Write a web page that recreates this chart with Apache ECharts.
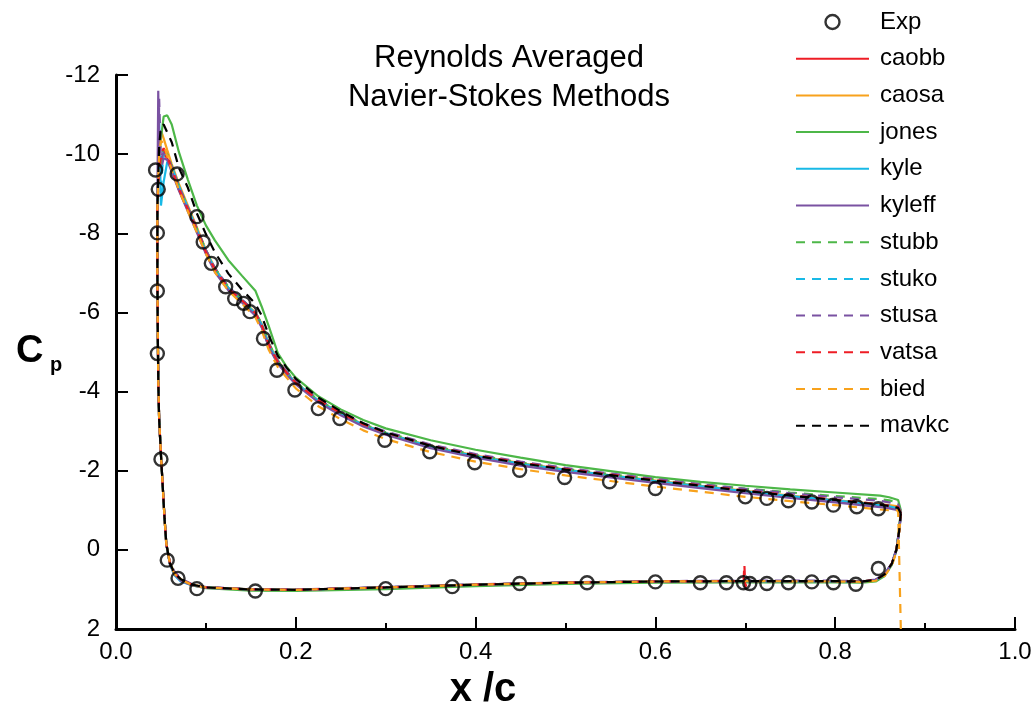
<!DOCTYPE html>
<html><head><meta charset="utf-8">
<script src="https://cdn.jsdelivr.net/npm/echarts@6/dist/echarts.min.js"></script>
<style>html,body{margin:0;padding:0;background:#fff}#c{width:1035px;height:711px}</style>
</head><body><div id="c"></div>
<script>
// Shared path of x/c: upper surface TE -> LE, then lower surface LE -> TE
const xPath = [0.873,0.870,0.860,0.850,0.800,0.750,0.700,0.650,0.600,0.550,0.500,0.450,0.400,0.350,0.300,0.275,0.250,0.225,0.200,0.190,0.180,0.170,0.162,0.155,0.140,0.125,0.110,0.100,0.090,0.080,0.070,0.062,0.057,0.053,0.050,0.048,0.047,0.046,
  0.046,0.0465,0.047,0.048,0.050,0.052,0.054,0.056,0.060,0.065,0.072,0.085,0.100,0.150,0.200,0.300,0.400,0.500,0.600,0.698,0.699,0.700,0.702,0.800,0.830,0.845,0.855,0.863,0.868,0.871,0.873];

const caobb = [-0.88,-1.04,-1.09,-1.12,-1.24,-1.35,-1.47,-1.60,-1.73,-1.87,-2.01,-2.17,-2.36,-2.60,-2.94,-3.15,-3.43,-3.76,-4.20,-4.45,-4.72,-5.15,-5.65,-5.95,-6.28,-6.58,-7.05,-7.50,-8.05,-8.58,-9.10,-9.60,-9.90,-10.00,-9.80,-9.45,-9.15,-8.55,
  -7.00,-5.50,-4.30,-3.30,-2.40,-1.60,-0.80,-0.15,0.35,0.60,0.75,0.89,0.95,1.00,1.01,0.95,0.88,0.83,0.80,0.79,0.79,0.79,0.79,0.79,0.80,0.76,0.62,0.35,0.00,-0.45,-0.88];
const caosa = [-0.95,-1.10,-1.13,-1.15,-1.26,-1.37,-1.49,-1.62,-1.75,-1.88,-2.03,-2.19,-2.38,-2.62,-2.95,-3.17,-3.45,-3.78,-4.22,-4.48,-4.78,-5.22,-5.72,-6.00,-6.30,-6.62,-7.12,-7.58,-8.15,-8.70,-9.25,-9.75,-10.10,-10.40,-10.60,-10.20,-9.50,-8.60,
  -7.00,-5.50,-4.30,-3.30,-2.40,-1.60,-0.80,-0.12,0.33,0.58,0.74,0.88,0.95,1.00,1.01,0.95,0.88,0.83,0.80,0.79,0.79,0.79,0.79,0.79,0.80,0.77,0.63,0.36,0.02,-0.45,-0.95];
const jones = [-1.00,-1.26,-1.33,-1.37,-1.45,-1.53,-1.62,-1.72,-1.84,-1.99,-2.14,-2.33,-2.53,-2.77,-3.07,-3.28,-3.55,-3.88,-4.35,-4.62,-4.97,-5.65,-6.15,-6.55,-6.93,-7.32,-7.82,-8.20,-8.70,-9.35,-10.05,-10.75,-10.98,-10.95,-10.40,-9.90,-9.40,-8.70,
  -7.00,-5.50,-4.30,-3.30,-2.40,-1.60,-0.80,-0.15,0.35,0.60,0.76,0.90,0.97,1.03,1.04,0.99,0.92,0.86,0.83,0.82,0.82,0.82,0.82,0.82,0.83,0.80,0.66,0.38,0.02,-0.50,-1.00];
const kyle = [-0.90,-1.05,-1.10,-1.13,-1.25,-1.36,-1.48,-1.61,-1.74,-1.88,-2.02,-2.18,-2.37,-2.61,-2.95,-3.16,-3.44,-3.77,-4.22,-4.47,-4.75,-5.20,-5.70,-5.98,-6.30,-6.62,-7.10,-7.55,-8.10,-8.65,-9.20,-9.70,-9.80,-9.30,-8.70,-10.90,-9.60,-8.60,
  -7.00,-5.50,-4.30,-3.30,-2.40,-1.60,-0.80,-0.15,0.38,0.64,0.80,0.90,0.95,1.00,1.01,0.95,0.88,0.83,0.80,0.79,0.79,0.79,0.79,0.79,0.80,0.76,0.62,0.35,0.00,-0.45,-0.90];
const kyleff = [-0.85,-1.00,-1.05,-1.08,-1.20,-1.31,-1.43,-1.56,-1.69,-1.83,-1.97,-2.13,-2.33,-2.57,-2.91,-3.12,-3.40,-3.73,-4.18,-4.43,-4.70,-5.12,-5.62,-5.92,-6.25,-6.56,-7.02,-7.48,-8.02,-8.55,-9.08,-9.55,-9.85,-9.90,-9.60,-9.40,-11.60,-8.80,
  -7.00,-5.50,-4.30,-3.30,-2.40,-1.60,-0.80,-0.13,0.36,0.62,0.78,0.90,0.96,1.00,1.01,0.95,0.88,0.83,0.80,0.79,0.79,0.79,0.79,0.79,0.80,0.76,0.62,0.35,0.00,-0.45,-0.85];
const stubb = [-0.95,-1.20,-1.25,-1.28,-1.36,-1.45,-1.55,-1.66,-1.78,-1.91,-2.05,-2.21,-2.40,-2.64,-2.97,-3.18,-3.46,-3.79,-4.24,-4.50,-4.78,-5.22,-5.72,-6.00,-6.33,-6.65,-7.12,-7.58,-8.12,-8.65,-9.20,-9.70,-10.00,-10.10,-9.90,-9.50,-9.20,-8.60,
  -7.00,-5.50,-4.30,-3.30,-2.40,-1.60,-0.80,-0.15,0.35,0.60,0.75,0.89,0.95,1.00,1.01,0.95,0.88,0.83,0.80,0.79,0.79,0.79,0.79,0.79,0.80,0.76,0.62,0.35,0.00,-0.48,-0.95];
const stuko = [-0.90,-1.08,-1.12,-1.15,-1.26,-1.37,-1.49,-1.62,-1.75,-1.89,-2.03,-2.19,-2.38,-2.62,-2.96,-3.17,-3.45,-3.78,-4.22,-4.47,-4.74,-5.18,-5.68,-5.97,-6.30,-6.60,-7.08,-7.53,-8.08,-8.62,-9.15,-9.65,-9.95,-10.05,-9.20,-9.90,-9.30,-8.60,
  -7.00,-5.50,-4.30,-3.30,-2.40,-1.60,-0.80,-0.14,0.36,0.61,0.76,0.89,0.95,1.00,1.01,0.95,0.88,0.83,0.80,0.79,0.79,0.79,0.79,0.79,0.80,0.76,0.62,0.35,0.00,-0.45,-0.90];
const stusa = [-0.95,-1.15,-1.20,-1.24,-1.33,-1.43,-1.54,-1.66,-1.79,-1.93,-2.07,-2.23,-2.42,-2.66,-2.99,-3.20,-3.48,-3.80,-4.25,-4.50,-4.78,-5.20,-5.70,-6.00,-6.33,-6.65,-7.12,-7.58,-8.12,-8.65,-9.18,-9.68,-9.95,-10.05,-9.85,-11.40,-9.50,-8.60,
  -7.00,-5.50,-4.30,-3.30,-2.40,-1.60,-0.80,-0.10,0.30,0.55,0.72,0.87,0.94,0.99,1.00,0.94,0.87,0.82,0.79,0.78,0.78,0.78,0.78,0.78,0.79,0.75,0.61,0.34,0.00,-0.48,-0.95];
const vatsa = [-0.92,-1.08,-1.12,-1.15,-1.27,-1.38,-1.50,-1.63,-1.76,-1.90,-2.04,-2.20,-2.39,-2.63,-2.96,-3.17,-3.45,-3.78,-4.22,-4.47,-4.74,-5.18,-5.68,-5.98,-6.30,-6.60,-7.08,-7.52,-8.08,-8.60,-9.12,-9.62,-9.95,-10.15,-10.00,-9.60,-9.20,-8.60,
  -7.00,-5.50,-4.30,-3.30,-2.40,-1.60,-0.80,-0.15,0.35,0.60,0.75,0.89,0.95,1.00,1.01,0.95,0.88,0.83,0.80,0.79,0.38,0.95,0.79,0.79,0.80,0.76,0.62,0.35,0.00,-0.45,-0.92];
const bied = [2.00,-1.00,-1.00,-1.02,-1.13,-1.23,-1.34,-1.47,-1.60,-1.74,-1.88,-2.04,-2.23,-2.47,-2.80,-3.02,-3.30,-3.63,-4.08,-4.35,-4.62,-5.05,-5.55,-5.88,-6.22,-6.55,-7.02,-7.48,-8.02,-8.55,-9.10,-9.60,-9.95,-10.25,-10.35,-10.00,-9.40,-8.60,
  -7.00,-5.50,-4.30,-3.30,-2.40,-1.60,-0.80,-0.15,0.35,0.60,0.75,0.89,0.95,1.00,1.01,0.95,0.88,0.83,0.80,0.79,0.79,0.79,0.79,0.80,0.81,0.78,0.66,0.40,0.05,-0.40,-0.85];
const mavkc = [-0.92,-1.06,-1.11,-1.14,-1.26,-1.37,-1.49,-1.62,-1.75,-1.89,-2.03,-2.19,-2.38,-2.63,-2.97,-3.20,-3.50,-3.85,-4.32,-4.60,-4.90,-5.42,-5.92,-6.22,-6.58,-6.98,-7.52,-7.98,-8.50,-9.15,-9.65,-10.30,-10.55,-10.75,-10.70,-10.20,-9.50,-8.60,
  -7.00,-5.50,-4.30,-3.30,-2.40,-1.60,-0.80,-0.15,0.34,0.59,0.74,0.88,0.95,1.00,1.01,0.95,0.88,0.83,0.80,0.79,0.79,0.79,0.79,0.79,0.80,0.76,0.62,0.35,0.00,-0.45,-0.92];

// Experimental points
const expX = [0.044,0.047,0.046,0.046,0.046,0.050,0.068,0.090,0.097,0.106,0.122,0.132,0.142,0.149,0.164,0.179,0.199,0.225,0.249,0.299,0.349,0.399,0.449,0.499,0.549,0.600,0.700,0.724,0.748,0.774,0.798,0.824,0.848,
  0.057,0.069,0.090,0.155,0.300,0.374,0.449,0.524,0.600,0.650,0.679,0.698,0.705,0.724,0.748,0.774,0.798,0.823,0.848];
const expCp = [-9.60,-9.11,-8.01,-6.54,-4.96,-2.29,-9.50,-8.42,-7.78,-7.24,-6.65,-6.35,-6.23,-6.02,-5.34,-4.54,-4.04,-3.57,-3.32,-2.77,-2.48,-2.20,-2.01,-1.83,-1.72,-1.55,-1.34,-1.30,-1.24,-1.21,-1.13,-1.09,-1.04,
  0.26,0.72,0.98,1.04,0.98,0.93,0.85,0.83,0.81,0.83,0.83,0.83,0.85,0.85,0.83,0.81,0.83,0.87,0.47];

const seriesNames = ['caobb','caosa','jones','kyle','kyleff','stubb','stuko','stusa','vatsa','bied','mavkc'];
const seriesValues = [caobb,caosa,jones,kyle,kyleff,stubb,stuko,stusa,vatsa,bied,mavkc];
const seriesColors = ['#ee1d25','#f8a21c','#4db748','#18b9e6','#7a52a2','#4db748','#18b9e6','#7a52a2','#ee1d25','#f8a21c','#000000'];
const seriesDashed = [false,false,false,false,false,true,true,true,true,true,true];

const FONT = 'Liberation Sans, Arial, sans-serif';
const chart = echarts.init(document.getElementById('c'), null, {renderer:'canvas'});

const series = seriesNames.map((n, k) => ({
  name: n, type: 'line', symbol: 'none', showSymbol: false, animation: false,
  lineStyle: { color: seriesColors[k], width: 2.2, type: seriesDashed[k] ? [9, 7] : 'solid' },
  itemStyle: { color: seriesColors[k] },
  data: xPath.map((x, i) => [x, seriesValues[k][i]]),
  z: 2
}));
series.push({
  name: 'Exp', type: 'scatter', symbol: 'circle', symbolSize: 13, animation: false,
  itemStyle: { color: 'rgba(0,0,0,0)', borderColor: '#000', borderWidth: 2.4 },
  data: expX.map((x, i) => [x, expCp[i]]), z: 5
});

chart.setOption({
  backgroundColor: '#fff',
  animation: false,
  grid: { left: 116, right: 20, top: 75, bottom: 82, containLabel: false },
  xAxis: {
    type: 'value', min: 0, max: 1, interval: 0.2,
    axisLine: { onZero: false, lineStyle: { color: '#000', width: 3 } },
    axisTick: { inside: true, length: 12, lineStyle: { color: '#000', width: 2 } },
    minorTick: { show: true, splitNumber: 2, length: 6, lineStyle: { color: '#000', width: 2 } },
    splitLine: { show: false },
    axisLabel: { color: '#000', fontSize: 24, fontFamily: FONT, margin: 11, formatter: v => v.toFixed(1) }
  },
  yAxis: {
    type: 'value', inverse: true, min: -12, max: 2, interval: 2,
    axisLine: { onZero: false, lineStyle: { color: '#000', width: 3 } },
    axisTick: { inside: true, length: 12, lineStyle: { color: '#000', width: 2 } },
    splitLine: { show: false },
    axisLabel: { color: '#000', fontSize: 24, fontFamily: FONT, margin: 16 }
  },
  legend: {
    orient: 'vertical', left: 790, top: 5, itemWidth: 73, itemHeight: 14, itemGap: 12.7,
    textStyle: { fontSize: 24, color: '#000', fontFamily: FONT, lineHeight: 24, padding: [0, 0, 0, 6] },
    data: [{ name: 'Exp', itemStyle: { color: 'rgba(0,0,0,0)', borderColor: '#000', borderWidth: 2.4 } }]
      .concat(seriesNames.map(n => ({ name: n, itemStyle: { opacity: 0 } })))
  },
  graphic: [
    { type: 'text', x: 509, y: 39, style: { text: 'Reynolds Averaged\nNavier-Stokes Methods', fill: '#000', font: '31px ' + FONT, align: 'center', verticalAlign: 'top', lineHeight: 39 } },
    { type: 'text', x: 483, y: 690, style: { text: 'x /c', fill: '#000', font: 'bold 40px ' + FONT, align: 'center', verticalAlign: 'middle' } },
    { type: 'text', x: 16, y: 352, style: { text: 'C', fill: '#000', font: 'bold 38px ' + FONT, align: 'left', verticalAlign: 'middle' } },
    { type: 'text', x: 50, y: 365, style: { text: 'p', fill: '#000', font: 'bold 20px ' + FONT, align: 'left', verticalAlign: 'middle' } }
  ],
  series: series
});
</script>
</body></html>
